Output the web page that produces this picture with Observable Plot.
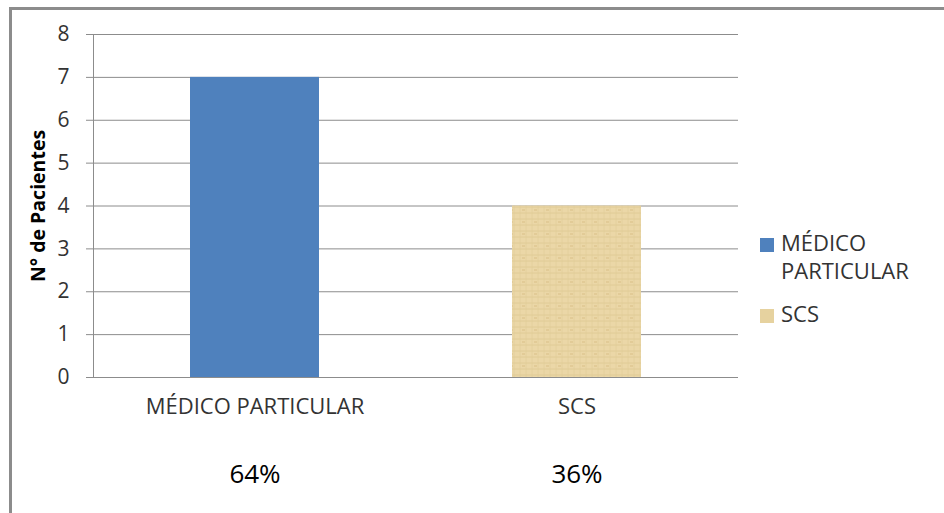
<!DOCTYPE html>
<html>
<head>
<meta charset="utf-8">
<script src="https://cdn.jsdelivr.net/npm/d3@7"></script>
<script src="https://cdn.jsdelivr.net/npm/@observablehq/plot@0.6"></script>
<style>
  html, body { margin: 0; padding: 0; background: #fff; }
  #wrap { position: relative; width: 944px; height: 513px; overflow: hidden; font-family: "Open Sans", Lato, sans-serif; }
  #border { position: absolute; left: 9px; top: 7px; width: 960px; height: 520px; border-top: 3px solid #8c8c8c; border-left: 3px solid #8c8c8c; box-sizing: border-box; }
  #chart { position: absolute; left: 0; top: 0; }
  .legend { position: absolute; left: 760px; color: #333; font-size: 22px; line-height: 28px; }
  .legend .sw { position: absolute; left: 0; width: 14px; height: 14px; }
  .legend .lbl { position: absolute; left: 21px; white-space: nowrap; }
</style>
</head>
<body>
<svg width="0" height="0" style="position:absolute">
  <defs>
    <pattern id="papyrus" patternUnits="userSpaceOnUse" width="12" height="12">
      <rect width="12" height="12" fill="#ebd7a7"/>
      <path d="M0 3H12M0 9H12" stroke="#dcc58e" stroke-width="1" opacity="0.7"/>
      <path d="M4 0V12M10 0V12" stroke="#e0ca96" stroke-width="1" opacity="0.6"/>
      <rect x="6" y="5" width="3" height="2" fill="#d9c088" opacity="0.5"/>
    </pattern>
  </defs>
</svg>
<div id="wrap">
  <div id="border"></div>
  <div id="chart"></div>
  <div class="legend" id="legend"></div>
</div>
<script>
const categories = ["MÉDICO PARTICULAR", "SCS"];
const pacientes = [7, 4];
const percentages = ["64%", "36%"];
const legendLabels = [["MÉDICO", "PARTICULAR"], ["SCS"]];
const yTicks = [0, 1, 2, 3, 4, 5, 6, 7, 8];

const colors = ["#4f81bd", "url(#papyrus)"];
const swatchColors = ["#4f81bd", "#e6d29f"];

const data = categories.map((c, i) => ({cat: c, n: pacientes[i], pct: percentages[i], color: colors[i]}));

const plot = Plot.plot({
  width: 944,
  height: 513,
  marginLeft: 93,
  marginRight: 206,
  marginTop: 34,
  marginBottom: 136,
  style: {fontFamily: "'Open Sans', Lato, sans-serif", background: "transparent", overflow: "visible"},
  x: {domain: categories, paddingInner: 0.6, paddingOuter: 0.3, label: null},
  y: {domain: [0, 8], label: null},
  marks: [
    Plot.gridY(yTicks, {stroke: "#8c8c8c", strokeOpacity: 1, strokeWidth: 1}),
    Plot.barY(data, {x: "cat", y: "n", fill: "color"}),
    Plot.ruleY([0], {stroke: "#8c8c8c", strokeWidth: 1}),
    Plot.frame({anchor: "left", stroke: "#8c8c8c", strokeWidth: 1}),
    Plot.axisY({ticks: yTicks, tickSize: 7, tickPadding: 17, stroke: "#8c8c8c", fontSize: 21, fill: "#333", label: null}),
    Plot.axisX({tickSize: 0, tickPadding: 21, fontSize: 22, fill: "#333", label: null}),
    Plot.text(data, {x: "cat", y: () => 0, text: "pct", dy: 97, fontSize: 26, fill: "#000", lineAnchor: "middle"}),
    Plot.text(["N° de Pacientes"], {frameAnchor: "left", textAnchor: "middle", dx: -55, rotate: -90, fontSize: 19.5, fontWeight: "bold", fill: "#000"})
  ]
});
document.getElementById("chart").appendChild(plot);

const legend = document.getElementById("legend");
const tops = [228, 299];
legendLabels.forEach((lines, i) => {
  const sw = document.createElement("div");
  sw.className = "sw";
  sw.style.top = (tops[i] + 10) + "px";
  sw.style.background = swatchColors[i];
  legend.appendChild(sw);
  const lbl = document.createElement("div");
  lbl.className = "lbl";
  lbl.style.top = tops[i] + "px";
  lbl.innerHTML = lines.join("<br>");
  legend.appendChild(lbl);
});
</script>
</body>
</html>
